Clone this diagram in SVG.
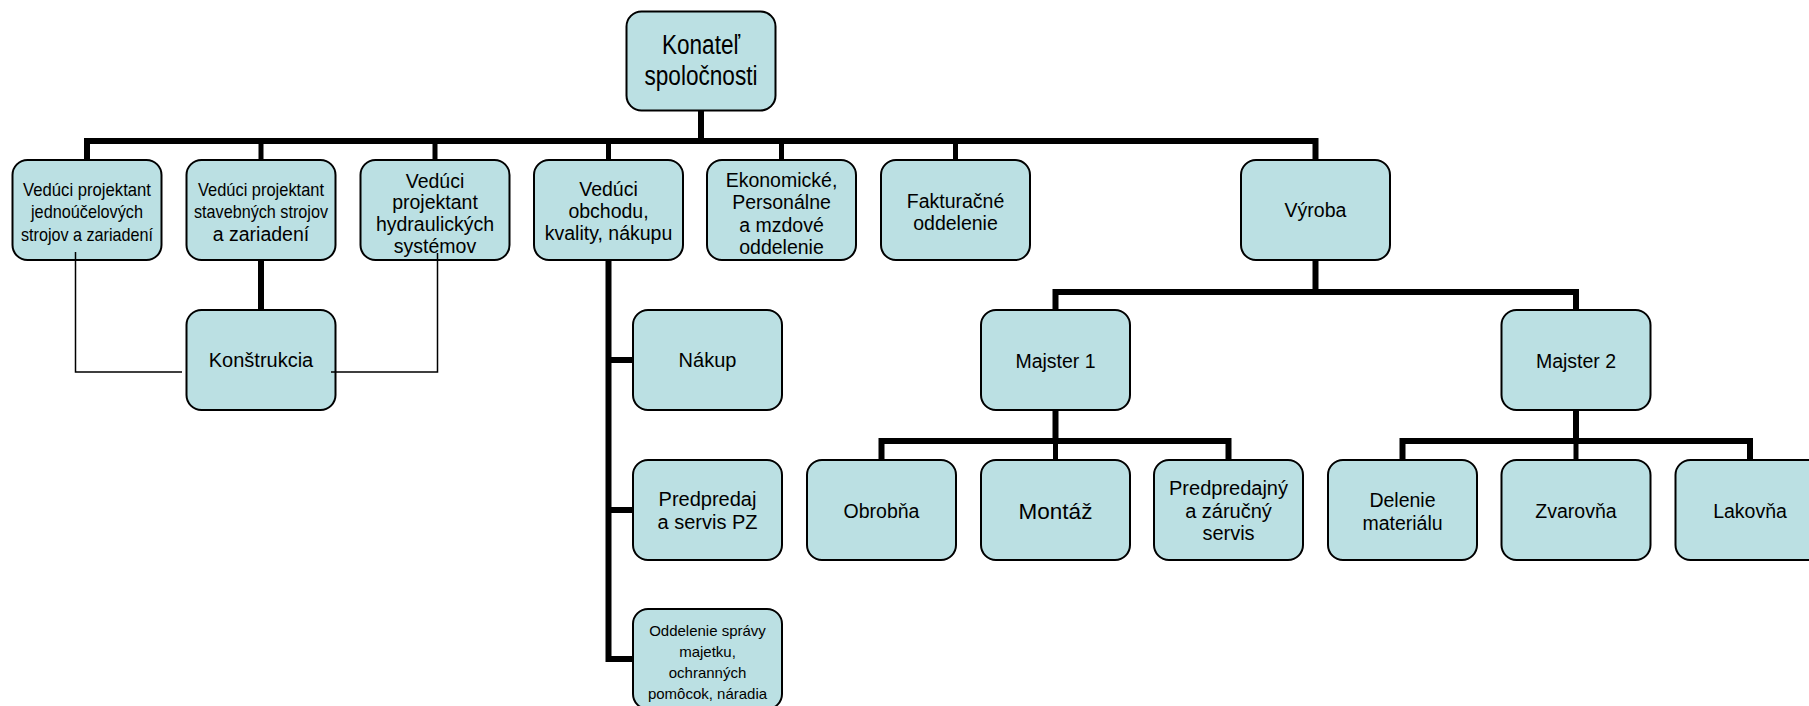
<svg xmlns="http://www.w3.org/2000/svg" width="1809" height="706" viewBox="0 0 1809 706">
<defs>
<style>
.box{fill:#BBE0E3;stroke:#000;stroke-width:2}
text{font-family:"Liberation Sans",Arial,sans-serif;fill:#000;text-anchor:middle}
.f19{font-size:19.5px}
.f20{font-size:20px}
.thick{fill:none;stroke:#000;stroke-width:6;stroke-linejoin:miter}
.drop{fill:none;stroke:#000;stroke-width:5}
.thin{fill:none;stroke:#000;stroke-width:1.5}
</style>
</defs>
<rect width="1809" height="706" fill="#fff"/>

<g id="n-konatel">
<rect class="box" x="626.5" y="11.5" width="149" height="99" rx="15"/>
<text x="701" y="54" style="font-size:27px" textLength="78" lengthAdjust="spacingAndGlyphs">Konateľ</text>
<text x="701" y="85" style="font-size:27px" textLength="113" lengthAdjust="spacingAndGlyphs">spoločnosti</text>
</g>

<g id="n-vp-jednoucel">
<rect class="box" x="12.5" y="160" width="149" height="100" rx="15"/>
<text x="87" y="195.5" style="font-size:19px" textLength="128" lengthAdjust="spacingAndGlyphs">Vedúci projektant</text>
<text x="87" y="218" style="font-size:19px" textLength="112" lengthAdjust="spacingAndGlyphs">jednoúčelových</text>
<text x="87" y="240.5" style="font-size:19px" textLength="132" lengthAdjust="spacingAndGlyphs">strojov a zariadení</text>
</g>

<g id="n-vp-stavebnych">
<rect class="box" x="186.5" y="160" width="149" height="100" rx="15"/>
<text x="261" y="195.5" style="font-size:19px" textLength="126" lengthAdjust="spacingAndGlyphs">Vedúci projektant</text>
<text x="261" y="218" style="font-size:19px" textLength="134" lengthAdjust="spacingAndGlyphs">stavebných strojov</text>
<text x="261" y="241" class="f19">a zariadení</text>
</g>

<g id="n-vp-hydraul">
<rect class="box" x="360.5" y="160" width="149" height="100" rx="15"/>
<text x="435" y="187.5" class="f19">Vedúci</text>
<text x="435" y="209" class="f19">projektant</text>
<text x="435" y="231" class="f19">hydraulických</text>
<text x="435" y="253" class="f19">systémov</text>
</g>

<g id="n-obchod">
<rect class="box" x="534" y="160" width="149" height="100" rx="15"/>
<text x="608.5" y="195.5" class="f19">Vedúci</text>
<text x="608.5" y="217.5" class="f19">obchodu,</text>
<text x="608.5" y="239.5" class="f19">kvality, nákupu</text>
</g>

<g id="n-ekonom">
<rect class="box" x="707" y="160" width="149" height="100" rx="15"/>
<text x="781.5" y="187" class="f19">Ekonomické,</text>
<text x="781.5" y="209" class="f19">Personálne</text>
<text x="781.5" y="231.5" class="f19">a mzdové</text>
<text x="781.5" y="254" class="f19">oddelenie</text>
</g>

<g id="n-faktur">
<rect class="box" x="881" y="160" width="149" height="100" rx="15"/>
<text x="955.5" y="207.5" class="f19">Fakturačné</text>
<text x="955.5" y="230" class="f19">oddelenie</text>
</g>

<g id="n-vyroba">
<rect class="box" x="1241" y="160" width="149" height="100" rx="15"/>
<text x="1315.5" y="217" class="f19">Výroba</text>
</g>

<g id="n-konstrukcia">
<rect class="box" x="186.5" y="310" width="149" height="100" rx="15"/>
<text x="261" y="367" class="f20">Konštrukcia</text>
</g>

<g id="n-nakup">
<rect class="box" x="633" y="310" width="149" height="100" rx="15"/>
<text x="707.5" y="367" class="f20">Nákup</text>
</g>

<g id="n-predpredaj-pz">
<rect class="box" x="633" y="460" width="149" height="100" rx="15"/>
<text x="707.5" y="506" class="f20">Predpredaj</text>
<text x="707.5" y="528.5" class="f20">a servis PZ</text>
</g>

<g id="n-oddelenie-spravy">
<rect class="box" x="633" y="609" width="149" height="100" rx="15"/>
<text x="707.5" y="636" style="font-size:15px">Oddelenie správy</text>
<text x="707.5" y="657" style="font-size:15px">majetku,</text>
<text x="707.5" y="678" style="font-size:15px">ochranných</text>
<text x="707.5" y="699" style="font-size:15px">pomôcok, náradia</text>
</g>

<g id="n-majster1">
<rect class="box" x="981" y="310" width="149" height="100" rx="15"/>
<text x="1055.5" y="367.5" class="f19">Majster 1</text>
</g>

<g id="n-majster2">
<rect class="box" x="1501.5" y="310" width="149" height="100" rx="15"/>
<text x="1576" y="367.5" class="f19">Majster 2</text>
</g>

<g id="n-obrobna">
<rect class="box" x="807" y="460" width="149" height="100" rx="15"/>
<text x="881.5" y="517.5" class="f19">Obrobňa</text>
</g>

<g id="n-montaz">
<rect class="box" x="981" y="460" width="149" height="100" rx="15"/>
<text x="1055.5" y="518.5" style="font-size:22.5px">Montáž</text>
</g>

<g id="n-predpredajny">
<rect class="box" x="1154" y="460" width="149" height="100" rx="15"/>
<text x="1228.5" y="495" class="f20">Predpredajný</text>
<text x="1228.5" y="517.5" class="f20">a záručný</text>
<text x="1228.5" y="540" class="f20">servis</text>
</g>

<g id="n-delenie">
<rect class="box" x="1328" y="460" width="149" height="100" rx="15"/>
<text x="1402.5" y="506.5" class="f19">Delenie</text>
<text x="1402.5" y="529.5" class="f19">materiálu</text>
</g>

<g id="n-zvarovna">
<rect class="box" x="1501.5" y="460" width="149" height="100" rx="15"/>
<text x="1576" y="517.5" class="f19">Zvarovňa</text>
</g>

<g id="n-lakovna">
<rect class="box" x="1675.5" y="460" width="149" height="100" rx="15"/>
<text x="1750" y="517.5" class="f19">Lakovňa</text>
</g>

<g id="connectors">
<path class="thick" d="M701 110.5 V141"/>
<path class="thick" d="M87 160 V141 H1315.5 V160"/>
<path class="drop" d="M261 141 V160 M435 141 V160 M608.5 141 V160 M781.5 141 V160 M955.5 141 V160"/>
<path class="thick" d="M261 260 V310"/>
<path class="thin" d="M75.5 252 V372 H182"/>
<path class="thin" d="M331 372 H437.5 V253"/>
<path class="thick" d="M608.5 260 V659 H633"/>
<path class="thick" d="M608.5 360 H633 M608.5 510 H633"/>
<path class="thick" d="M1315.5 260 V292"/>
<path class="thick" d="M1055.5 310 V292 H1576 V310"/>
<path class="thick" d="M1055.5 410 V441"/>
<path class="thick" d="M881.5 460 V441 H1228.5 V460"/>
<path class="drop" d="M1055.5 441 V460"/>
<path class="thick" d="M1576 410 V441"/>
<path class="thick" d="M1402.5 460 V441 H1750 V460"/>
<path class="drop" d="M1576 441 V460"/>
</g>
</svg>
